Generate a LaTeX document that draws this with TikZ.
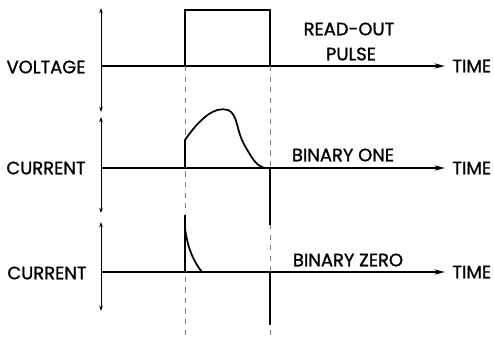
\documentclass[tikz,border=0pt]{standalone}
\usepackage{fontspec}
\setmainfont{Poppins}[FakeBold=1.2]
\usetikzlibrary{arrows.meta}
\begin{document}
\begin{tikzpicture}[x=0.02cm, y=0.02cm,
    baseline/.style={line width=0.8pt, -{Stealth[length=6pt, width=3pt]}},
    yaxis/.style={line width=0.4pt, {Stealth[length=3pt, width=2pt]}-{Stealth[length=3pt, width=2pt]}},
    trace/.style={line width=1pt},
    guide/.style={gray, dashed, line width=0.4pt},
    lbl/.style={font=\fontsize{10.2}{11}\selectfont, inner sep=0pt}]
    \useasboundingbox (0,0) rectangle (494,336);

    % labels on the left
    \node[lbl] (volt) at (46,269) {VOLTAGE};
    \node[lbl] (curone) at (46,168) {CURRENT};
    \node[lbl] (curzero) at (47,63) {CURRENT};

    % time labels
    \foreach \n/\y in {tv/270, tone/168, tzero/64} \node[lbl, anchor=west] (\n) at (452,\y) {TIME};

    % captions
    \node[lbl] (readout) at (349,307) {READ-OUT};
    \node[lbl] (pulse) at (351,282) {PULSE};
    \node[lbl] (one) at (343,181) {BINARY ONE};
    \node[lbl] (zero) at (348,76) {BINARY ZERO};

    % vertical axes
    \draw[yaxis] (101,328) -- (101,224);
    \draw[yaxis] (101,219) -- (101,123);
    \draw[yaxis] (101,114) -- (101,25);

    % time axes
    \coordinate (v0) at (101,270);
    \coordinate (c0) at (101,168);
    \coordinate (z0) at (101,64);
    \draw[baseline] (v0) -- ([xshift=-4pt]tv.west);
    \draw[baseline] (c0) -- ([xshift=-4pt]tone.west);
    \draw[baseline] (z0) -- ([xshift=-4pt]tzero.west);

    % dashed guides
    \draw[guide] (185,270) -- (185,0);
    \draw[guide] (270,270) -- (270,0);

    % read-out pulse
    \draw[trace] (185,270) -- (185,326) -- (270,326) -- (270,270);

    % binary one
    \draw[trace] (185,168) -- (185,196)
        .. controls (200,218) and (215,230) .. (228,226)
        .. controls (238,222) and (236,205) .. (245,190)
        .. controls (252,178) and (256,170) .. (265,168);
    \draw[trace] (270,168) -- (270,111);

    % binary zero
    \draw[trace] (185,64) -- (185,121);
    \draw[trace] (185,108) .. controls (187,92) and (192,76) .. (202,64);
    \draw[trace] (270,64) -- (270,11);
\end{tikzpicture}
\end{document}
